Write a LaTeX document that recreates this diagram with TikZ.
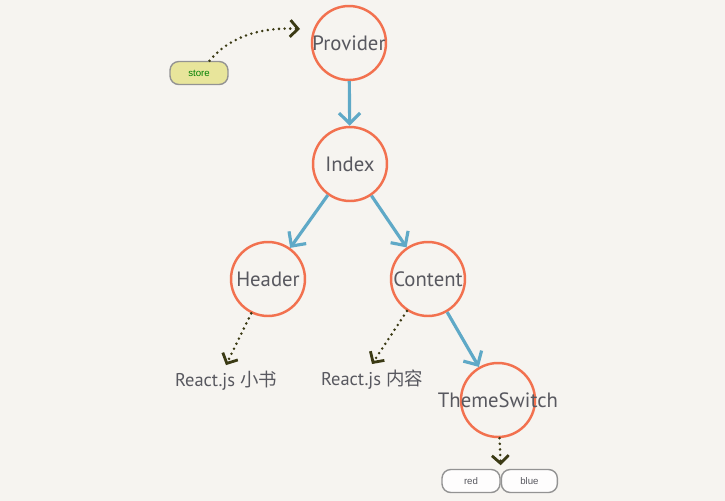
\documentclass[tikz,border=0pt]{standalone}
\usepackage{fontspec}
\setmainfont{PT Sans}
\newfontfamily\cjkfont{Noto Sans CJK SC}
\newfontfamily\boxfont{Liberation Sans}
\usepackage{xcolor}
\usetikzlibrary{positioning,arrows.meta}

\definecolor{paper}{HTML}{F6F4F0}
\definecolor{ringred}{HTML}{F2714F}
\definecolor{flowblue}{HTML}{5FA9C7}
\definecolor{dotdark}{HTML}{3B3A14}
\definecolor{inkgray}{HTML}{58585F}
\definecolor{storefill}{HTML}{E8E59B}

\begin{document}
\begin{tikzpicture}[x=0.02cm,y=-0.02cm,
				ring/.style={
					circle, draw=ringred, line width=1.4pt,
					minimum size=1.48cm, inner sep=0pt,
					label={[text=inkgray, font=\fontsize{11.8}{13}\selectfont]center:#1}
				},
				tag/.style={
					text=inkgray, font=\fontsize{10.5}{13}\selectfont
				},
				pill/.style={
					draw=gray!85, line width=0.8pt, rounded corners=5pt,
					minimum height=0.46cm, inner sep=0pt,
					font=\boxfont\fontsize{5.5}{6}\selectfont
				},
				flow/.style={
					draw=flowblue, line width=1.8pt,
					-{Straight Barb[length=6pt,width=12pt]}
				},
				hint/.style={
					draw=dotdark, line width=1.6pt, line cap=round,
					dash pattern=on 0pt off 3.2pt,
					-{Straight Barb[length=4.5pt,width=9.5pt,line cap=butt]}
				}
				]
				\useasboundingbox[fill=paper] (0,0) rectangle (725,501);
				
				\node[ring=Provider] (provider) at (349,43) {};
				\node[ring=Index] (index) at (350,164) {};
				\node[ring=Header] (header) at (268,279) {};
				\node[ring=Content] (content) at (428,279) {};
				\node[ring=ThemeSwitch] (theme) at (498,400) {};
				
				\node[pill, fill=storefill, text=green!50!black, minimum width=1.16cm] (store) at (199,73) {store};
				\coordinate (provin) at (300,29);
				
				\node[tag] (book) at (226,381) {React.js {\cjkfont 小书}};
				\node[tag] (body) at (372,380) {React.js {\cjkfont 内容}};
				
				\node[pill, fill=white!85!paper, text=inkgray, minimum width=1.16cm] (red) at (471,481) {red};
				\node[pill, fill=white!85!paper, text=inkgray, minimum width=1.12cm, right=0pt of red] (blue) {blue};
				
				\draw[flow] (provider) -- (index);
				\draw[flow] (index) -- (header);
				\draw[flow] (index) -- (content);
				\draw[flow] (content) -- (theme);
				
				\draw[hint] ([xshift=6pt]store.north) .. controls (230,36) and (262,27) .. (provin);
				\draw[hint] (header) -- (book.north);
				\draw[hint] (content) -- (body.north);
				\draw[hint] (theme) -- ([yshift=2pt]red.north east);
			\end{tikzpicture}
\end{document}
